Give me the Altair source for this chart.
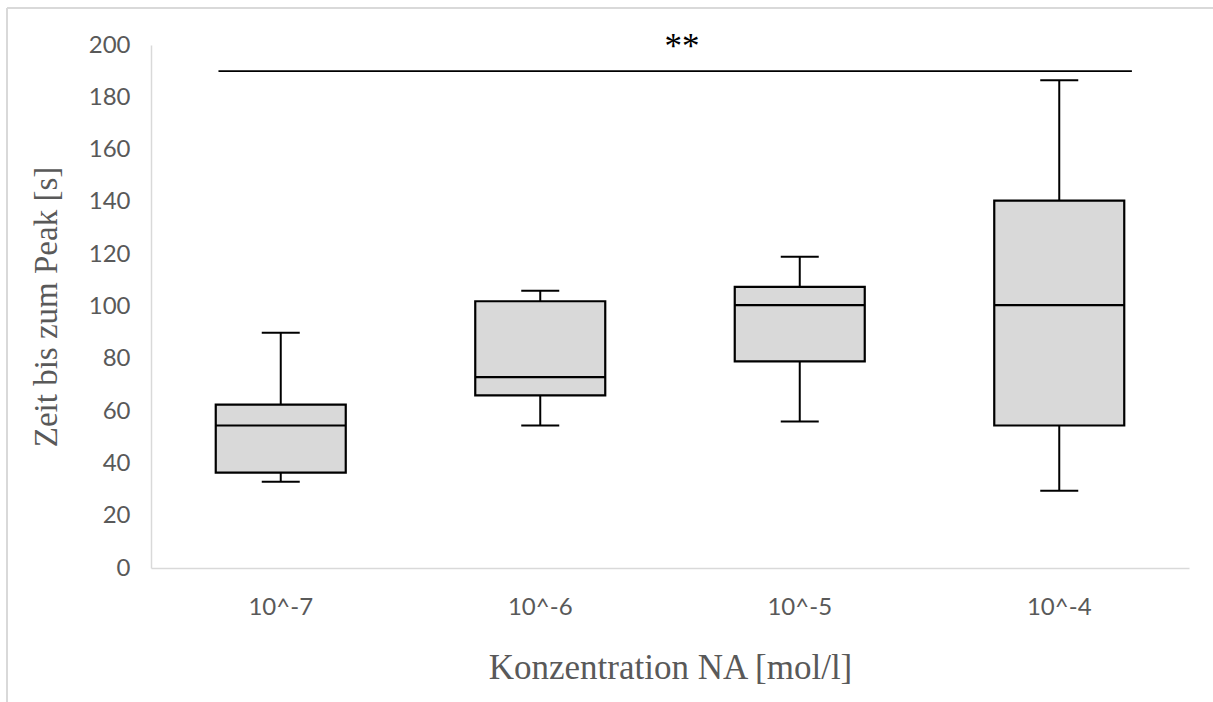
import altair as alt
import pandas as pd

# Box-plot summary per concentration group (time to peak, seconds)
categories = ["10^-7", "10^-6", "10^-5", "10^-4"]
whisker_low = [33, 54.5, 56, 29.5]
q1 = [36.5, 66, 79, 54.5]
median = [54.5, 73, 100.5, 100.5]
q3 = [62.5, 102, 107.5, 140.5]
whisker_high = [90, 106, 119, 186.5]

# Significance bracket spanning all groups
sig_from = ["10^-7"]
sig_to = ["10^-4"]
sig_level = [190]
sig_label = ["**"]
sig_label_y = [195]

y_ticks = [0, 20, 40, 60, 80, 100, 120, 140, 160, 180, 200]

boxes = pd.DataFrame({
    "conc": categories,
    "lo": whisker_low,
    "q1": q1,
    "med": median,
    "q3": q3,
    "hi": whisker_high,
})
sig = pd.DataFrame({
    "start": sig_from,
    "end": sig_to,
    "level": sig_level,
    "mid": ["10^-6"],
    "label": sig_label,
    "label_y": sig_label_y,
})

W, H = 1038, 523
x_scale = alt.Scale(domain=categories, paddingInner=0, paddingOuter=0)
y_scale = alt.Scale(domain=[0, 200], nice=False, zero=True)

x_enc = alt.X(
    "conc:N",
    scale=x_scale,
    sort=categories,
    axis=alt.Axis(
        title="Konzentration NA [mol/l]",
        labelAngle=0,
        titleY=110,
        titleBaseline="alphabetic",
        titleFontSize=35,
    ),
)
y_axis = alt.Axis(
    title="Zeit bis zum Peak [s]",
    values=y_ticks,
    titleX=-95,
    titleBaseline="alphabetic",
    titleFontSize=33,
)

base = alt.Chart(boxes)

# Light outer chart-area frame (top and left edges)
frame_top = base.mark_rule(color="#d9d9d9", strokeWidth=1.5, clip=False).encode(
    x=alt.value(-144), x2=alt.value(W + 30), y=alt.value(-37)
)
frame_left = base.mark_rule(color="#d9d9d9", strokeWidth=1.5, clip=False).encode(
    x=alt.value(-144), y=alt.value(-37), y2=alt.value(H + 140)
)

whiskers = base.mark_rule(color="black", strokeWidth=2).encode(
    x=x_enc,
    y=alt.Y("lo:Q", scale=y_scale, axis=y_axis),
    y2="hi:Q",
)
caps_low = base.mark_tick(color="black", size=38, thickness=2, opacity=1).encode(
    x=x_enc, y=alt.Y("lo:Q", scale=y_scale)
)
caps_high = base.mark_tick(color="black", size=38, thickness=2, opacity=1).encode(
    x=x_enc, y=alt.Y("hi:Q", scale=y_scale)
)
box = base.mark_bar(size=130, fill="#d9d9d9", stroke="black", strokeWidth=2.2, opacity=1).encode(
    x=x_enc,
    y=alt.Y("q1:Q", scale=y_scale),
    y2="q3:Q",
)
med = base.mark_tick(color="black", size=130, thickness=2.2, opacity=1).encode(
    x=x_enc, y=alt.Y("med:Q", scale=y_scale)
)

sig_base = alt.Chart(sig)
sig_rule = sig_base.mark_rule(color="black", strokeWidth=1.8).encode(
    x=alt.X("start:N", bandPosition=0.26, scale=x_scale),
    x2=alt.X2("end", bandPosition=0.78),
    y=alt.Y("level:Q", scale=y_scale),
)
sig_text = sig_base.mark_text(
    font="Liberation Serif", fontSize=35, color="black", baseline="alphabetic", align="center", dx=12
).encode(
    x=alt.X("mid:N", bandPosition=1, scale=x_scale),
    y=alt.Y("label_y:Q", scale=y_scale),
    text="label:N",
)

chart = (
    alt.layer(frame_top, frame_left, whiskers, caps_low, caps_high, box, med, sig_rule, sig_text)
    .properties(
        width=W,
        height=H,
        autosize=alt.AutoSizeParams(type="none"),
        padding={"left": 151, "top": 45, "right": 24, "bottom": 134},
        background="white",
    )
    .configure_view(stroke=None)
    .configure_axis(
        domainColor="#d9d9d9",
        domainWidth=1.5,
        ticks=False,
        grid=False,
        labelFont="Lato",
        labelFontSize=24,
        labelColor="#595959",
        titleFont="Liberation Serif",
        titleFontWeight="normal",
        titleColor="#595959",
    )
    .configure_axisX(labelPadding=27)
    .configure_axisY(labelPadding=21)
)

chart.save("out.html", embed_options={"renderer": "svg", "actions": False})
